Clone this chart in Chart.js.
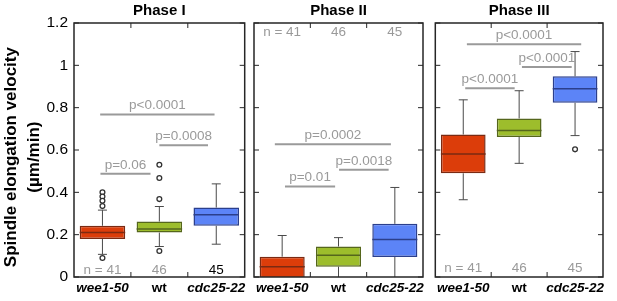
<!DOCTYPE html>
<html>
<head>
<meta charset="utf-8">
<title>Spindle elongation velocity</title>
<script src="https://cdn.jsdelivr.net/npm/chart.js@4.4.1/dist/chart.umd.min.js"></script>
<style>
  body { margin: 0; background: #fff; }
  .panel { position: absolute; top: 0; height: 301px; }
  #p1 { left: 0; width: 250px; }
  #p2 { left: 250px; width: 180px; }
  #p3 { left: 430px; width: 187px; }
</style>
</head>
<body>
<div class="panel" id="p1"><canvas id="phase1"></canvas></div>
<div class="panel" id="p2"><canvas id="phase2"></canvas></div>
<div class="panel" id="p3"><canvas id="phase3"></canvas></div>
<script>
// Strains and sample sizes (same in every phase)
const strains = ['wee1-50', 'wt', 'cdc25-22'];
const nCounts = [41, 46, 45];

// Box colours per strain
const boxFill = ['#dc3d0a', '#9dbd2c', '#5c84f7'];
const boxEdge = ['#7a2a12', '#55661c', '#2b3f8c'];

// Phase I box stats (um/min)
const phase1Low = [0.107, 0.144, 0.155];
const phase1Q1 = [0.180, 0.210, 0.242];
const phase1Median = [0.210, 0.227, 0.294];
const phase1Q3 = [0.242, 0.262, 0.328];
const phase1High = [0.316, 0.333, 0.440];
const phase1Outliers = [[0.40, 0.38, 0.36, 0.335, 0.09], [0.53, 0.468, 0.368, 0.123], []];
const phase1PLabels = ['p<0.0001', 'p=0.0008', 'p=0.06'];
const phase1PLevels = [0.768, 0.622, 0.488];
const phase1PFrom = [-0.04, 1.0, -0.035];
const phase1PTo = [1.97, 1.855, 0.845];

// Phase II box stats
const phase2Low = [-0.05, -0.01, -0.02];
const phase2Q1 = [-0.02, 0.049, 0.095];
const phase2Median = [0.049, 0.103, 0.177];
const phase2Q3 = [0.096, 0.144, 0.251];
const phase2High = [0.196, 0.186, 0.423];
const phase2Outliers = [[], [], []];
const phase2PLabels = ['p=0.0002', 'p=0.0018', 'p=0.01'];
const phase2PLevels = [0.627, 0.507, 0.428];
const phase2PFrom = [-0.13, 1.01, 0.05];
const phase2PTo = [1.93, 1.89, 0.94];

// Phase III box stats
const phase3Low = [0.365, 0.537, 0.668];
const phase3Q1 = [0.490, 0.662, 0.823];
const phase3Median = [0.581, 0.692, 0.889];
const phase3Q3 = [0.673, 0.749, 0.948];
const phase3High = [0.837, 0.880, 1.065];
const phase3Outliers = [[], [], [0.603]];
const phase3PLabels = ['p<0.0001', 'p<0.0001', 'p<0.0001'];
const phase3PLevels = [1.10, 0.992, 0.892];
const phase3PFrom = [0.065, 1.05, 0.035];
const phase3PTo = [2.11, 1.94, 0.92];

const FONT = "'Liberation Sans', Arial, sans-serif";
Chart.defaults.font.family = FONT;
Chart.defaults.color = '#000';

// trailing spaces nudge the rotated axis title down a little, like the original
const PAD = '\u00a0\u00a0\u00a0';

// Whiskers, medians, frame, n labels and p-value bars
function makeExtras(panel) {
  return {
    id: 'boxExtras',
    afterDatasetsDraw(chart) {
      const { ctx, chartArea, scales: { y } } = chart;
      const boxes = chart.getDatasetMeta(0).data;
      ctx.save();
      ctx.beginPath();
      ctx.rect(chartArea.left, chartArea.top, chartArea.width, chartArea.height);
      ctx.clip();
      boxes.forEach((bar, i) => {
        const cx = bar.x;
        const half = bar.width / 2;
        const cap = 4.5;
        const yLow = y.getPixelForValue(panel.low[i]);
        const yHigh = y.getPixelForValue(panel.high[i]);
        const yQ1 = y.getPixelForValue(panel.q1[i]);
        const yQ3 = y.getPixelForValue(panel.q3[i]);
        ctx.strokeStyle = '#4a4a4a';
        ctx.lineWidth = 1;
        ctx.beginPath();
        ctx.moveTo(cx, yQ3); ctx.lineTo(cx, yHigh);
        ctx.moveTo(cx - cap, yHigh); ctx.lineTo(cx + cap, yHigh);
        ctx.moveTo(cx, yQ1); ctx.lineTo(cx, yLow);
        ctx.moveTo(cx - cap, yLow); ctx.lineTo(cx + cap, yLow);
        ctx.stroke();
        // median
        const yMed = y.getPixelForValue(panel.median[i]);
        ctx.strokeStyle = boxEdge[i];
        ctx.lineWidth = 1.5;
        ctx.beginPath();
        ctx.moveTo(cx - half, yMed); ctx.lineTo(cx + half, yMed);
        ctx.stroke();
      });
      ctx.restore();
    },
    afterDraw(chart) {
      const { ctx, chartArea: a, scales: { x, y } } = chart;
      ctx.save();
      // frame
      ctx.strokeStyle = '#262626';
      ctx.lineWidth = 1.5;
      ctx.strokeRect(a.left, a.top, a.width, a.height);
      // inward tick marks
      ctx.lineWidth = 1;
      ctx.beginPath();
      y.ticks.forEach((t, i) => {
        const py = y.getPixelForTick(i);
        ctx.moveTo(a.left, py); ctx.lineTo(a.left + 5, py);
        ctx.moveTo(a.right, py); ctx.lineTo(a.right - 5, py);
      });
      for (let i = 1; i < strains.length; i++) {
        const px = x.getPixelForValue(i - 0.5);
        ctx.moveTo(px, a.bottom); ctx.lineTo(px, a.bottom - 5);
        ctx.moveTo(px, a.top); ctx.lineTo(px, a.top + 5);
      }
      ctx.stroke();

      // p-value bars
      ctx.font = '13.5px ' + FONT;
      ctx.textAlign = 'center';
      ctx.textBaseline = 'alphabetic';
      ctx.strokeStyle = '#9a9a9a';
      ctx.fillStyle = '#9a9a9a';
      ctx.lineWidth = 2;
      panel.pLabels.forEach((label, i) => {
        const x0 = x.getPixelForValue(panel.pFrom[i]);
        const x1 = x.getPixelForValue(panel.pTo[i]);
        const py = y.getPixelForValue(panel.pLevels[i]);
        ctx.beginPath();
        ctx.moveTo(x0, py); ctx.lineTo(x1, py);
        ctx.stroke();
        ctx.fillText(label, (x0 + x1) / 2, py - 5);
      });

      // sample sizes
      ctx.font = '13.5px ' + FONT;
      ctx.textBaseline = 'middle';
      const ny = y.getPixelForValue(panel.nLevel);
      nCounts.forEach((n, i) => {
        ctx.fillStyle = panel.nColors[i];
        const text = i === 0 ? 'n = ' + n : String(n);
        ctx.fillText(text, x.getPixelForValue(i), ny);
      });
      ctx.restore();
    }
  };
}

function createPanel(canvasId, panel) {
  const ctx = document.getElementById(canvasId).getContext('2d');
  const outlierPoints = [];
  panel.outliers.forEach((list, i) => {
    list.forEach(v => outlierPoints.push({ x: strains[i], y: v }));
  });

  return new Chart(ctx, {
    type: 'bar',
    data: {
      labels: strains,
      datasets: [{
        data: panel.q1.map((q, i) => [q, panel.q3[i]]),
        backgroundColor: boxFill,
        borderColor: boxEdge,
        borderWidth: 1.5,
        borderSkipped: false,
        barPercentage: 0.8,
        categoryPercentage: 1.0
      }, {
        type: 'line',
        data: outlierPoints,
        showLine: false,
        pointStyle: 'circle',
        pointRadius: 2.4,
        pointBorderWidth: 1.3,
        pointBorderColor: '#333',
        pointBackgroundColor: '#fff'
      }]
    },
    options: {
      responsive: true,
      maintainAspectRatio: false,
      animation: false,
      layout: { padding: { left: 0, right: panel.padRight, top: 0, bottom: 0 } },
      plugins: {
        legend: { display: false },
        tooltip: { enabled: false },
        title: {
          display: true,
          text: panel.title,
          fullSize: false,
          color: '#000',
          font: { size: 15, weight: 'bold' },
          padding: { top: 2, bottom: 3 }
        }
      },
      scales: {
        x: {
          type: 'category',
          offset: true,
          grid: { display: false, drawTicks: false },
          border: { display: false },
          ticks: {
            color: '#000',
            padding: 3,
            maxRotation: 0,
            autoSkip: false,
            font: (c) => ({ size: 13.5, weight: 'bold', style: c.index === 1 ? 'normal' : 'italic' })
          },
          afterFit: (scale) => { scale.height = 24; }
        },
        y: {
          min: 0,
          max: 1.2,
          grid: { display: false, drawTicks: false },
          border: { display: false },
          ticks: {
            display: panel.showYLabels,
            stepSize: 0.2,
            padding: 6,
            color: '#000',
            font: { size: 15.5 },
            callback: (v) => Number(v.toFixed(1)).toString()
          },
          title: {
            display: panel.showYLabels,
            text: ['Spindle elongation velocity' + PAD, '(\u00b5m/min)' + PAD],
            color: '#000',
            font: { size: 17, weight: 'bold', lineHeight: 1.4 },
            padding: { top: -1, bottom: 0 }
          },
          afterFit: (scale) => { scale.width = panel.axisWidth; }
        }
      }
    },
    plugins: [makeExtras(panel)]
  });
}

createPanel('phase1', {
  title: 'Phase I',
  low: phase1Low, q1: phase1Q1, median: phase1Median, q3: phase1Q3, high: phase1High,
  outliers: phase1Outliers,
  pLabels: phase1PLabels, pLevels: phase1PLevels, pFrom: phase1PFrom, pTo: phase1PTo,
  nLevel: 0.033,
  nColors: ['#9a9a9a', '#9a9a9a', '#000'],
  showYLabels: true, axisWidth: 74, padRight: 3
});

createPanel('phase2', {
  title: 'Phase II',
  low: phase2Low, q1: phase2Q1, median: phase2Median, q3: phase2Q3, high: phase2High,
  outliers: phase2Outliers,
  pLabels: phase2PLabels, pLevels: phase2PLevels, pFrom: phase2PFrom, pTo: phase2PTo,
  nLevel: 1.154,
  nColors: ['#9a9a9a', '#9a9a9a', '#9a9a9a'],
  showYLabels: false, axisWidth: 4, padRight: 7
});

createPanel('phase3', {
  title: 'Phase III',
  low: phase3Low, q1: phase3Q1, median: phase3Median, q3: phase3Q3, high: phase3High,
  outliers: phase3Outliers,
  pLabels: phase3PLabels, pLevels: phase3PLevels, pFrom: phase3PFrom, pTo: phase3PTo,
  nLevel: 0.043,
  nColors: ['#9a9a9a', '#9a9a9a', '#9a9a9a'],
  showYLabels: false, axisWidth: 3, padRight: 14
});
</script>
</body>
</html>
